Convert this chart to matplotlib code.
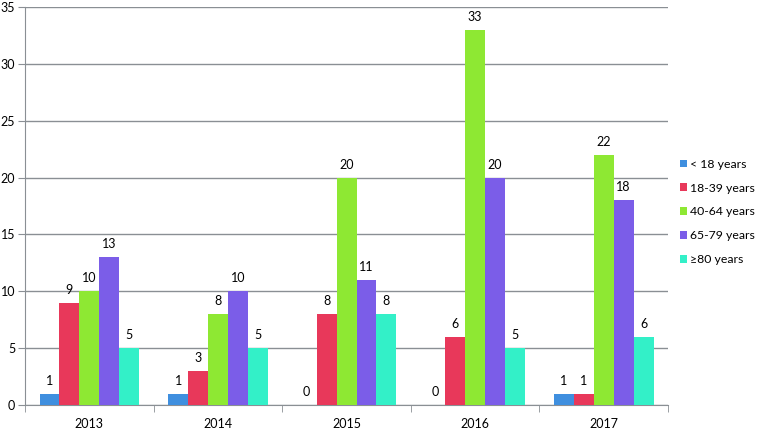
import numpy as np
import matplotlib
matplotlib.use("Agg")
import matplotlib.pyplot as plt

years = ["2013", "2014", "2015", "2016", "2017"]
groups = ["< 18 years", "18-39 years", "40-64 years", "65-79 years", "\u226580 years"]
under18 = [1, 1, 0, 0, 1]
age18_39 = [9, 3, 8, 6, 1]
age40_64 = [10, 8, 20, 33, 22]
age65_79 = [13, 10, 11, 20, 18]
over80 = [5, 5, 8, 5, 6]
colors = ["#3f8fdf", "#e8385a", "#8ee833", "#7b5de8", "#33f0c8"]

plt.rcParams['font.family'] = ['Lato', 'DejaVu Sans']
fig = plt.figure(figsize=(7.6, 4.3), dpi=100)
ax = fig.add_axes([0.033, 0.058, 0.846, 0.926])

series = [under18, age18_39, age40_64, age65_79, over80]
x = np.arange(len(years))
w = 0.155
for i, (vals, name, c) in enumerate(zip(series, groups, colors)):
    pos = x + (i - 2) * w
    bars = ax.bar(pos, vals, w, color=c, label=name, zorder=3)
    for b, v in zip(bars, vals):
        ax.text(b.get_x() + b.get_width() / 2, v + 0.6, str(v),
                ha="center", va="bottom", fontsize=9)

ax.set_xlim(-0.5, len(years) - 0.5)
ax.set_ylim(0, 35)
ax.set_yticks(range(0, 36, 5))
ax.yaxis.grid(True, color="#8a8f94", linewidth=1)
ax.set_axisbelow(True)
ax.set_xticks(x)
ax.set_xticklabels(years)
ax.set_xticks(np.arange(-0.5, len(years), 1), minor=True)
ax.tick_params(axis="x", which="major", length=0, labelsize=9, pad=9)
ax.tick_params(axis="x", which="minor", length=5, color="#8a8f94")
ax.tick_params(axis="y", length=5, color="#8a8f94", labelsize=9, pad=2)
for s in ["top", "right"]:
    ax.spines[s].set_visible(False)
for s in ["left", "bottom"]:
    ax.spines[s].set_color("#8a8f94")

ax.legend(loc="center left", bbox_to_anchor=(1.018, 0.485), frameon=False,
          fontsize=8.8, handlelength=0.6, handleheight=0.6, labelspacing=1.05,
          handletextpad=0.25, borderaxespad=0, borderpad=0)

fig.savefig("out.png", dpi=100)
